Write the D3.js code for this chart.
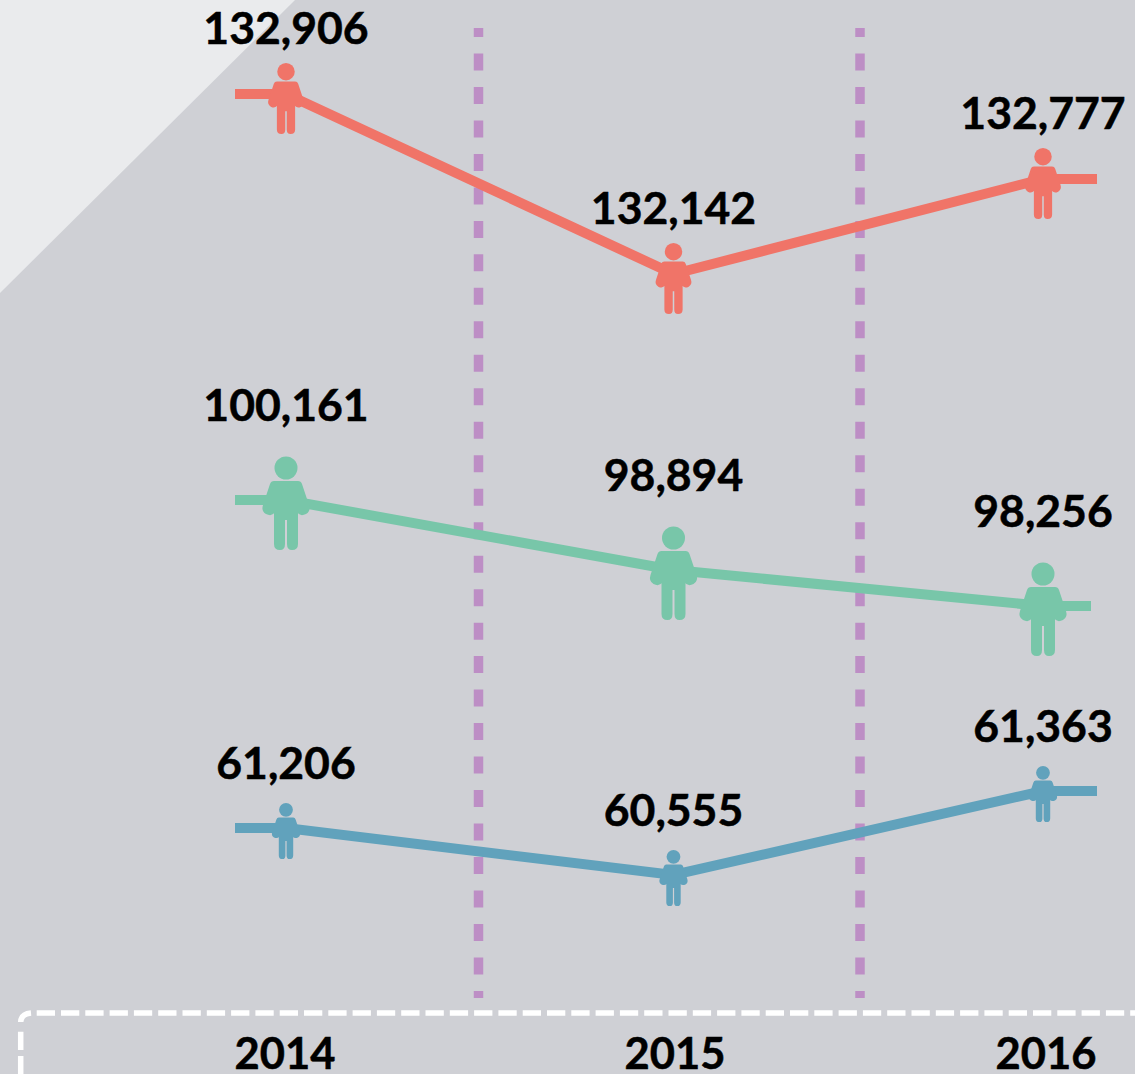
<!DOCTYPE html>
<html>
<head>
<meta charset="utf-8">
<script src="https://cdn.jsdelivr.net/npm/d3@7"></script>
<style>
  html, body { margin: 0; padding: 0; background: #cfd0d5; overflow: hidden; }
  text { font-family: Lato, "Open Sans", sans-serif; font-weight: 700; fill: #000; stroke: #000; stroke-width: 0.5px; }
</style>
</head>
<body>
<script>
var width = 1135, height = 1074;

var years = ["2014", "2015", "2016"];
var redValues = [132906, 132142, 132777];
var greenValues = [100161, 98894, 98256];
var blueValues = [61206, 60555, 61363];

var seriesColors = ["#f07468", "#78c6a9", "#61a2bc"];
var allSeries = [redValues, greenValues, blueValues];

// the picture is not to a straight scale, so y is piecewise through every value
var yDomain = [60555, 61206, 61363, 98256, 98894, 100161, 132142, 132777, 132906];
var yRange = [875, 828, 791, 606, 570, 500, 274, 179, 94];

var x = d3.scalePoint().domain(years).range([286, 1043]);
var y = d3.scaleLinear().domain(yDomain).range(yRange);

// 2015 sits a little left of the middle in the original
function xPos(year) {
  return year === "2015" ? 673.5 : x(year);
}

var iconScales = [0.76, 1, 0.6];
var iconShift = [2, 0, 1];
var stubLeft = [235, 235, 235];
var stubRight = [1097, 1091, 1097];
var labelGaps = [50, 79, 49];

var svg = d3.select("body").append("svg")
    .attr("width", width)
    .attr("height", height)
    .style("display", "block");

svg.append("polygon")
    .attr("points", "0,0 295,0 0,293")
    .attr("fill", "#eaebed");

var separators = [478.5, 860];
svg.selectAll(".separator")
    .data(separators)
  .enter().append("line")
    .attr("class", "separator")
    .attr("x1", function(d) { return d; })
    .attr("x2", function(d) { return d; })
    .attr("y1", 28)
    .attr("y2", 998)
    .attr("stroke", "#bd8ec5")
    .attr("stroke-width", 9.5)
    .attr("stroke-dasharray", "17 16.48")
    .attr("stroke-dashoffset", 8);

var line = d3.line()
    .x(function(d) { return d[0]; })
    .y(function(d) { return d[1]; });

// figure drawn around x = 0, with y = 0 on the series line (green size)
var personBody = "M-12,-19 L12,-19 Q15,-19 16,-16 L23,5 Q25,11 20,14 Q14,17 11,12 L12,5 "
    + "L12,44 Q12,50 6,50 Q1,50 1,44 L1,20 L-1,20 L-1,44 Q-1,50 -6,50 Q-12,50 -12,44 L-12,5 "
    + "L-11,12 Q-14,17 -20,14 Q-25,11 -23,5 L-16,-16 Q-15,-19 -12,-19 Z";

allSeries.forEach(function(values, i) {
  var points = values.map(function(v, j) { return [xPos(years[j]), y(v)]; });
  var full = [[stubLeft[i], points[0][1]]].concat(points, [[stubRight[i], points[2][1]]]);

  svg.append("path")
      .attr("d", line(full))
      .attr("fill", "none")
      .attr("stroke", seriesColors[i])
      .attr("stroke-width", 10);

  var person = svg.selectAll(".person-" + i)
      .data(values)
    .enter().append("g")
      .attr("class", "person-" + i)
      .attr("transform", function(d, j) {
        return "translate(" + xPos(years[j]) + "," + (y(d) + iconShift[i]) + ")scale(" + iconScales[i] + ")";
      })
      .attr("fill", seriesColors[i]);

  person.append("circle").attr("cy", -32).attr("r", 11.5);
  person.append("path").attr("d", personBody);

  svg.selectAll(".value-" + i)
      .data(values)
    .enter().append("text")
      .attr("class", "value-" + i)
      .attr("x", function(d, j) { return xPos(years[j]); })
      .attr("y", function(d) { return y(d) - labelGaps[i]; })
      .attr("text-anchor", "middle")
      .style("font-size", "44.5px")
      .text(function(d) { return d3.format(",")(d); });
});

// dashed frame runs off the page, corner dash is separate from the straight runs
var framePieces = ["M36.7,1013 H1135", "M20.7,1074.4 V1031.7"];
svg.selectAll(".frame")
    .data(framePieces)
  .enter().append("path")
    .attr("class", "frame")
    .attr("d", function(d) { return d; })
    .attr("fill", "none")
    .attr("stroke", "#fff")
    .attr("stroke-width", 5.5)
    .attr("stroke-dasharray", "18.3 6");

svg.append("path")
    .attr("d", "M20.7,1022 Q21,1014 31,1013")
    .attr("fill", "none")
    .attr("stroke", "#fff")
    .attr("stroke-width", 5.5);

var yearCenters = [285, 675, 1046];
svg.selectAll(".year")
    .data(years)
  .enter().append("text")
    .attr("class", "year")
    .attr("x", function(d, i) { return yearCenters[i]; })
    .attr("y", 1069)
    .attr("text-anchor", "middle")
    .style("font-size", "43.5px")
    .text(function(d) { return d; });
</script>
</body>
</html>
